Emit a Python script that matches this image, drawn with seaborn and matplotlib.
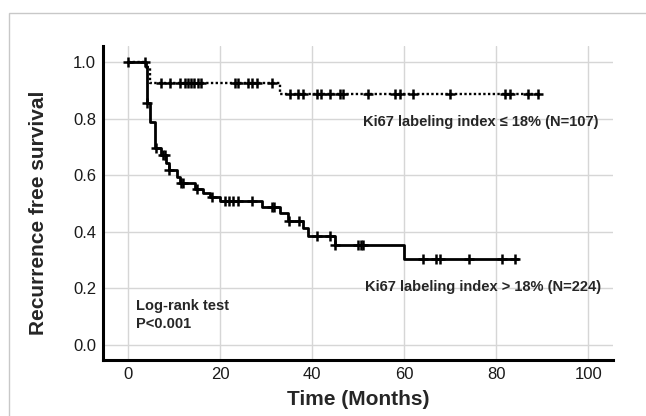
import numpy as np
import pandas as pd
import matplotlib
matplotlib.use("Agg")
import matplotlib.pyplot as plt
import seaborn as sns

# Kaplan-Meier steps (time in months, survival after the step)
low_times = [0, 3.8, 4.8, 33.0, 89.5]
low_surv = [1.0, 0.982, 0.928, 0.886, 0.886]
low_censor = [0, 3.6, 7.1, 9.1, 11.2, 12.3, 13.0, 13.7, 14.4, 15.1, 15.9,
              23.2, 23.9, 26.1, 26.8, 27.9, 31.2,
              35.1, 36.9, 37.9, 41.0, 42.0, 43.8, 46.0, 46.8, 52.2, 58.0,
              59.0, 62.0, 70.0, 81.9, 83.0, 87.0, 89.2]

high_times = [0, 3.8, 4.0, 4.8, 5.9, 7.1, 8.3, 8.8, 10.5, 11.3, 14.5, 16.3,
              17.8, 20.0, 29.0, 33.0, 34.8, 38.0, 39.1, 44.9, 60.0, 84.8]
high_surv = [1.0, 0.982, 0.854, 0.789, 0.695, 0.671, 0.642, 0.618, 0.595,
             0.571, 0.550, 0.536, 0.524, 0.510, 0.489, 0.465, 0.440, 0.412,
             0.387, 0.353, 0.303, 0.303]
high_censor = [4.0, 6.0, 7.6, 8.0, 8.9, 11.5, 11.8, 14.9, 18.1, 21.0, 22.0,
               22.8, 23.9, 27.0, 31.2, 31.7, 34.9, 37.1, 41.0, 43.9, 44.9,
               50.0, 50.6, 51.0, 64.0, 67.0, 67.8, 74.1, 81.2, 84.1]

label_low = "Ki67 labeling index \u2264 18% (N=107)"
label_high = "Ki67 labeling index > 18% (N=224)"


def surv_at(times, surv, t):
    i = np.searchsorted(times, t, side="right") - 1
    return np.asarray(surv)[i]


sns.set_style("whitegrid")
plt.rcParams["font.family"] = ["Liberation Sans", "DejaVu Sans"]

fig = plt.figure(figsize=(6.46, 4.16), dpi=100)
ax = fig.add_axes([0.1594, 0.1346, 0.7895, 0.7548])

df_low = pd.DataFrame({"t": low_times, "s": low_surv})
df_high = pd.DataFrame({"t": high_times, "s": high_surv})

sns.lineplot(data=df_low, x="t", y="s", drawstyle="steps-post", estimator=None,
             sort=False, color="black", lw=1.7, linestyle=(0, (1, 1)), ax=ax)
sns.lineplot(data=df_high, x="t", y="s", drawstyle="steps-post", estimator=None,
             sort=False, color="black", lw=2.0, ax=ax)

cens_low = pd.DataFrame({"t": low_censor,
                         "s": [surv_at(low_times, low_surv, t) for t in low_censor]})
cens_high = pd.DataFrame({"t": high_censor,
                          "s": [surv_at(high_times, high_surv, t) for t in high_censor]})
sns.scatterplot(data=cens_low, x="t", y="s", marker="+", s=55, linewidth=1.8,
                color="black", ax=ax, zorder=3)
sns.scatterplot(data=cens_high, x="t", y="s", marker="+", s=55, linewidth=1.8,
                color="black", ax=ax, zorder=3)

ax.set_xlim(-5.5, 105.4)
ax.set_ylim(-0.053, 1.057)
ax.set_xticks(np.arange(0, 101, 20))
ax.set_yticks(np.arange(0, 1.01, 0.2))
ax.set_yticklabels([f"{v:.1f}" for v in np.arange(0, 1.01, 0.2)])
ax.tick_params(length=0, labelsize=12, colors="#1a1a1a", pad=5)
ax.grid(True, color="#d6d6d6", lw=1)
for side in ["top", "right"]:
    ax.spines[side].set_visible(False)
for side in ["left", "bottom"]:
    ax.spines[side].set_color("black")
    ax.spines[side].set_linewidth(2.2)

ax.set_xlabel("Time (Months)", fontsize=15, fontweight="bold", labelpad=6)
ax.set_ylabel("Recurrence free survival", fontsize=15, fontweight="bold")
ax.yaxis.set_label_coords(-0.108, 0.47)

ax.text(51.1, 0.788, label_low, fontsize=10.5, fontweight="bold", va="center")
ax.text(51.5, 0.206, label_high, fontsize=10.5, fontweight="bold", va="center")
ax.text(1.7, 0.138, "Log-rank test", fontsize=10.5, fontweight="bold", va="center")
ax.text(1.7, 0.074, "P<0.001", fontsize=10.5, fontweight="bold", va="center")

frame = plt.Rectangle((9 / 646, -0.2), 1.0, (416 - 13) / 416 + 0.2,
                      transform=fig.transFigure, fill=False,
                      edgecolor="#c8c8c8", lw=1)
fig.add_artist(frame)

fig.savefig("out.png", dpi=100)
